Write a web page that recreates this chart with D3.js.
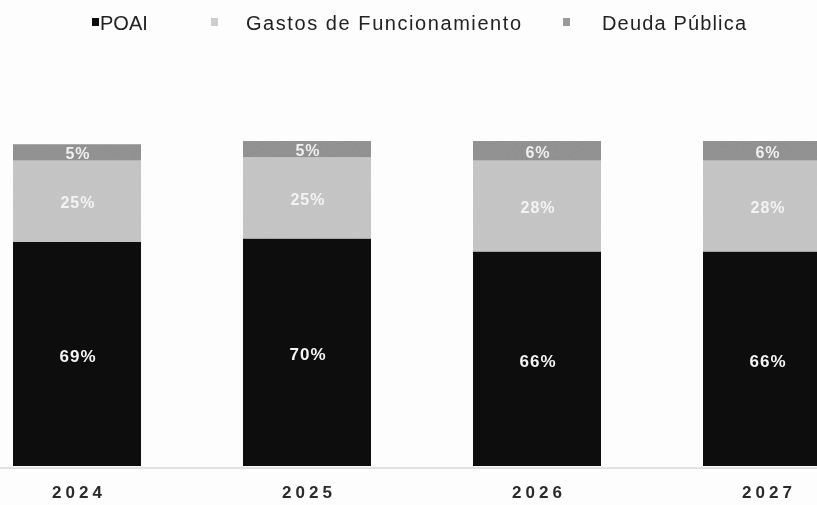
<!DOCTYPE html>
<html>
<head>
<meta charset="utf-8">
<script src="https://cdn.jsdelivr.net/npm/d3@7"></script>
<style>
  html, body { margin: 0; padding: 0; background: #fdfdfd; }
  svg { display: block; }
</style>
</head>
<body>
<svg id="chart" width="817" height="505"></svg>
<script>
// Distribución del presupuesto por año (%)
const years = ["2024", "2025", "2026", "2027"];
const poai = [69, 70, 66, 66];
const gastos = [25, 25, 28, 28];
const deuda = [5, 5, 6, 6];

const seriesNames = ["POAI", "Gastos de Funcionamiento", "Deuda Pública"];
const seriesColors = ["#0c0c0c", "#c4c4c4", "#8c8c8c"];
const labelColors = ["#f4f4f4", "#f3f3f3", "#f0f0f0"];

const rows = years.map((y, i) => ({ year: y, POAI: poai[i], "Gastos de Funcionamiento": gastos[i], "Deuda Pública": deuda[i] }));

const svg = d3.select("#chart");
const width = 817;

// light print grain on the grey fills
const defs = svg.append("defs");
const grain = defs.append("filter").attr("id", "grain").attr("x", 0).attr("y", 0).attr("width", 1).attr("height", 1);
grain.append("feTurbulence").attr("type", "fractalNoise").attr("baseFrequency", 0.8).attr("numOctaves", 2).attr("seed", 3).attr("result", "noise");
grain.append("feColorMatrix").attr("in", "noise").attr("type", "matrix")
  .attr("values", "0 0 0 0 0.6  0 0 0 0 0.6  0 0 0 0 0.6  0 0 0 0.14 0").attr("result", "n2");
grain.append("feComposite").attr("in", "n2").attr("in2", "SourceGraphic").attr("operator", "in").attr("result", "n3");
grain.append("feMerge").call(m => { m.append("feMergeNode").attr("in", "SourceGraphic"); m.append("feMergeNode").attr("in", "n3"); });

const soft = defs.append("filter").attr("id", "soft");
soft.append("feGaussianBlur").attr("stdDeviation", 0.55);

const root = svg.append("g").attr("filter", "url(#soft)");

const x = d3.scaleBand().domain(years).range([13, 831]).paddingInner(0.4435).paddingOuter(0);
const y = d3.scaleLinear().domain([0, 100]).range([466, 141]);

const layers = d3.stack().keys(seriesNames)(rows);

// baseline
root.append("line")
  .attr("x1", 0).attr("x2", width)
  .attr("y1", y(0) + 2).attr("y2", y(0) + 2)
  .attr("stroke", "#c8c8c8").attr("stroke-width", 1);

const layerG = root.selectAll("g.layer").data(layers).join("g")
  .attr("class", "layer")
  .attr("fill", (d, i) => seriesColors[i]);

layerG.selectAll("rect").data(d => d).join("rect")
  .attr("x", d => x(d.data.year))
  .attr("width", x.bandwidth())
  .attr("y", d => y(d[1]))
  .attr("height", d => y(d[0]) - y(d[1]))
  .attr("filter", function () {
    return d3.select(this.parentNode).datum().index > 0 ? "url(#grain)" : null;
  });

// value labels
layers.forEach((layer, li) => {
  root.append("g").selectAll("text").data(layer).join("text")
    .attr("x", d => x(d.data.year) + x.bandwidth() / 2 + 1)
    .attr("y", d => (y(d[0]) + y(d[1])) / 2 + (li === 0 ? 2 : 1))
    .attr("dy", "0.36em")
    .attr("text-anchor", "middle")
    .attr("font-family", "Liberation Sans, Arial, sans-serif")
    .attr("font-weight", "bold")
    .attr("font-size", li === 0 ? 17 : 16)
    .attr("letter-spacing", "1px")
    .attr("fill", labelColors[li])
    .text(d => (d[1] - d[0]) + "%");
});

// year labels
const xAxis = d3.axisBottom(x).tickSize(0).tickPadding(0);
const axG = root.append("g").attr("transform", `translate(2,${y(0) + 20})`).call(xAxis);
axG.select(".domain").remove();
axG.selectAll("text")
  .attr("font-family", "Liberation Sans, Arial, sans-serif")
  .attr("font-weight", "bold")
  .attr("font-size", 17)
  .attr("letter-spacing", "4px")
  .attr("fill", "#2a2a2a");

// legend
const legendItems = [
  { name: "POAI", sq: 92, tx: 100, len: null, color: seriesColors[0] },
  { name: "Gastos de Funcionamiento", sq: 211, tx: 246, len: 275, color: "#cdcdcd" },
  { name: "Deuda Pública", sq: 563, tx: 602, len: 144, color: "#9a9a9a" }
];
const leg = root.append("g");
leg.selectAll("rect").data(legendItems).join("rect")
  .attr("x", d => d.sq).attr("y", 18).attr("width", 7).attr("height", 8)
  .attr("fill", d => d.color);
leg.selectAll("text").data(legendItems).join("text")
  .attr("x", d => d.tx).attr("y", 30)
  .attr("font-family", "Liberation Sans, Arial, sans-serif")
  .attr("font-size", 20)
  .attr("textLength", d => d.len)
  .attr("lengthAdjust", "spacing")
  .attr("fill", "#222")
  .text(d => d.name);
</script>
</body>
</html>
